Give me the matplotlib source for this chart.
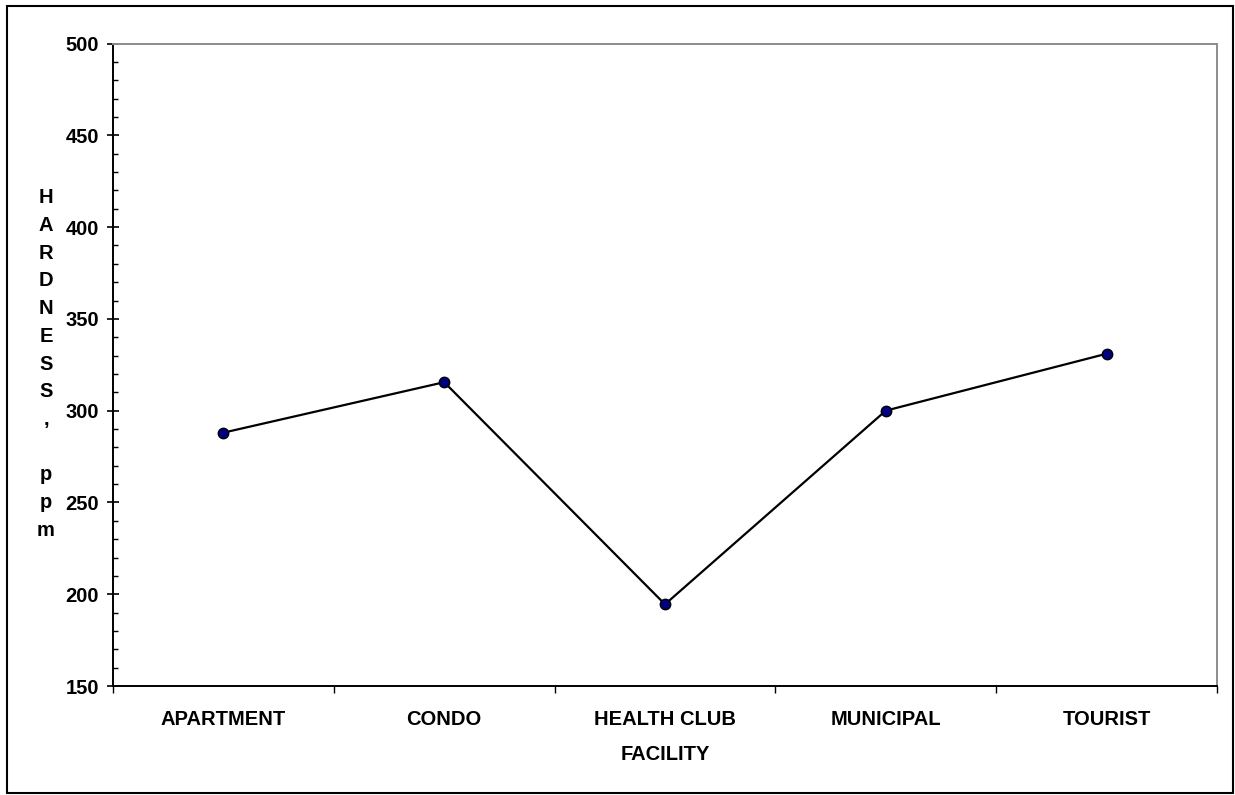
import matplotlib
matplotlib.use('Agg')
import matplotlib.pyplot as plt
import matplotlib.ticker as ticker
from matplotlib.patches import Rectangle

# === DATA ===
facilities = ['APARTMENT', 'CONDO', 'HEALTH CLUB', 'MUNICIPAL', 'TOURIST']
hardness = [288, 315.5, 194.5, 300, 331]

plt.rcParams['font.family'] = ['Liberation Sans', 'DejaVu Sans']
plt.rcParams['font.weight'] = 'bold'
FS = 14.5

fig = plt.figure(figsize=(12.35, 7.95), dpi=100)
ax = fig.add_axes([113 / 1235, 1 - 686 / 795, 1104 / 1235, 642.5 / 795])

x = list(range(len(facilities)))
ax.plot(x, hardness, color='black', linewidth=1.6, marker='o', markersize=7.5,
        markerfacecolor='#000080', markeredgecolor='black', markeredgewidth=1.0,
        zorder=3)

# Axes limits and ticks
ax.set_xlim(-0.5, len(facilities) - 0.5)
ax.set_ylim(150, 500)
ax.yaxis.set_major_locator(ticker.MultipleLocator(50))
ax.yaxis.set_minor_locator(ticker.MultipleLocator(10))
ax.tick_params(axis='y', which='major', direction='inout', length=8, width=1.2,
               labelsize=FS, pad=6)
ax.tick_params(axis='y', which='minor', direction='in', length=3.5, width=1.0)

# Category boundaries as major ticks, names as minor (label-only) ticks
ax.set_xticks([i - 0.5 for i in range(len(facilities) + 1)])
ax.set_xticklabels([])
ax.set_xticks(x, minor=True)
ax.set_xticklabels(facilities, minor=True, fontsize=FS, fontweight='bold')
ax.tick_params(axis='x', which='major', direction='out', length=5, width=1.0)
ax.tick_params(axis='x', which='minor', length=0, pad=17)

for lbl in ax.get_yticklabels():
    lbl.set_fontweight('bold')

# Spines: black left/bottom, gray top/right
for side in ['left', 'bottom']:
    ax.spines[side].set_color('black')
    ax.spines[side].set_linewidth(1.4)
for side in ['top', 'right']:
    ax.spines[side].set_color('#8c8c8c')
    ax.spines[side].set_linewidth(1.4)

# Stacked y-axis label
fig.text(46 / 1235, 1 - 364 / 795, 'H\nA\nR\nD\nN\nE\nS\nS\n,\n\np\np\nm',
         ha='center', va='center', fontsize=FS, fontweight='bold',
         linespacing=1.58)

# X-axis title
fig.text(665 / 1235, 1 - 755 / 795, 'FACILITY', ha='center', va='center',
         fontsize=FS, fontweight='bold')

# Outer chart border
fig.patches.append(Rectangle((7 / 1235, 1 - 793 / 795), 1226 / 1235, 787 / 795,
                             transform=fig.transFigure, fill=False,
                             edgecolor='black', linewidth=1.5))

fig.savefig('out.png', dpi=100)
